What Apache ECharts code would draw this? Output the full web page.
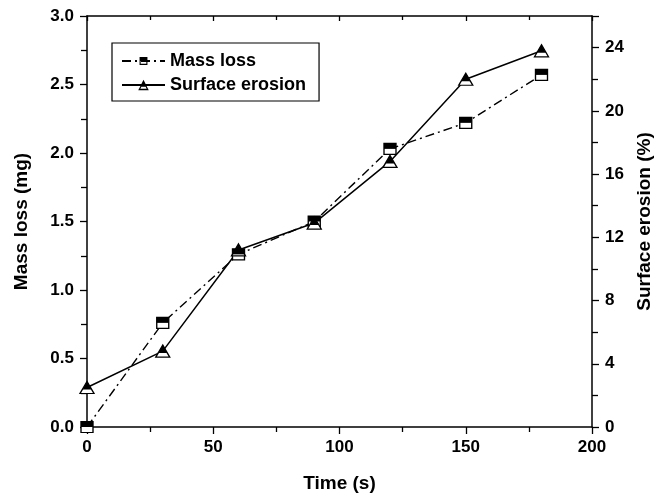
<!DOCTYPE html>
<html lang="en">
<head>
	<meta charset="UTF-8">
	<title>Mass loss and surface erosion</title>
	<style>
		html, body { margin: 0; padding: 0; background: #fff; }
		#chart { width: 666px; height: 496px; }
	</style>
</head>
<body>
	<div id="chart"></div>
	<script src="https://cdn.jsdelivr.net/npm/echarts@6/dist/echarts.min.js"></script>
	<script>
		// data
		var times = [0, 30, 60, 90, 120, 150, 180];
		var massLoss = [0, 0.76, 1.26, 1.50, 2.03, 2.22, 2.57];          // mg, left axis
		var surfaceErosion = [2.5, 4.8, 11.2, 12.9, 16.8, 22.0, 23.8];   // %, right axis

		var FONT = '"Liberation Sans", Arial, sans-serif';
		// markers: white outlined body, then the filled upper part on top
		var topSquare = 'path://M0,0L10,0L10,5L0,5Z';
		var topTriangle = 'path://M5,0L9.2,8.2L0.8,8.2Z';
		var bodyTriangle = 'path://M5,0L10,9L0,9Z';
		// legend icons: filled upper part plus thin strips for the lower outline
		// (the square gets two zero-size points so it is drawn a bit smaller)
		var legendSquare = 'path://M-1.6,-1.6L-1.6,-1.59 M11.6,11.6L11.6,11.59' +
			' M0,0L10,0L10,5L0,5Z' +
			' M0,5L1.4,5L1.4,10L0,10Z M8.6,5L10,5L10,10L8.6,10Z M0,8.6L10,8.6L10,10L0,10Z';
		var legendTriangle = 'path://M5,0L8.33,6L1.67,6Z' +
			' M1.67,6L2.9,6L1.3,9L0,9Z' +
			' M7.1,6L8.33,6L10,9L8.7,9Z' +
			' M0.6,7.8L9.4,7.8L10,9L0,9Z';

		function pairs(ys) {
			return times.map(function (t, i) { return [t, ys[i]]; });
		}

		var labelStyle = { color: '#000', fontFamily: FONT, fontWeight: 'bold', fontSize: 17 };
		var nameStyle = { color: '#000', fontFamily: FONT, fontWeight: 'bold', fontSize: 19 };
		var axisLine = { show: true, onZero: false, lineStyle: { color: '#000', width: 1.5 } };

		var chart = echarts.init(document.getElementById('chart'), null, { renderer: 'canvas' });
		var option = {
			animation: false,
			backgroundColor: '#fff',
			grid: { left: 87, right: 74, top: 16, bottom: 69, containLabel: false, outerBoundsMode: 'none' },
			legend: {
				left: 112, top: 43,
				orient: 'vertical',
				padding: [9, 13, 7, 9],
				borderColor: '#000', borderWidth: 1.2,
				itemWidth: 43, itemHeight: 13, itemGap: 6,
				textStyle: { color: '#000', fontFamily: FONT, fontWeight: 'bold', fontSize: 18, lineHeight: 17 },
				data: ['Mass loss', 'Surface erosion']
			},
			xAxis: [{
				type: 'value', min: 0, max: 200, interval: 50,
				name: 'Time (s)', nameLocation: 'middle', nameGap: 47, nameTextStyle: nameStyle,
				axisLine: axisLine,
				axisTick: { show: true, length: 7, lineStyle: { color: '#000', width: 1.3 } },
				minorTick: { show: true, splitNumber: 2, length: 5, lineStyle: { color: '#000', width: 1.3 } },
				axisLabel: Object.assign({ margin: 12 }, labelStyle),
				splitLine: { show: false }
			}, {
				type: 'value', min: 0, max: 200, interval: 50, position: 'top',
				axisLine: axisLine,
				axisTick: { show: true, inside: true, length: 5, lineStyle: { color: '#000', width: 1.3 } },
				minorTick: { show: true, splitNumber: 2, length: 4, lineStyle: { color: '#000', width: 1.3 } },
				axisLabel: { show: false },
				splitLine: { show: false }
			}],
			yAxis: [{
				type: 'value', min: 0, max: 3, interval: 0.5,
				name: 'Mass loss (mg)', nameLocation: 'middle', nameGap: 56, nameTextStyle: nameStyle,
				axisLine: axisLine,
				axisTick: { show: true, length: 7, lineStyle: { color: '#000', width: 1.3 } },
				minorTick: { show: true, splitNumber: 2, length: 6, lineStyle: { color: '#000', width: 1.3 } },
				axisLabel: Object.assign({ margin: 13, formatter: function (v) { return v.toFixed(1); } }, labelStyle),
				splitLine: { show: false }
			}, {
				type: 'value', min: 0, max: 26, interval: 4, position: 'right',
				name: 'Surface erosion (%)', nameLocation: 'middle', nameGap: 43, nameRotate: 90, nameTextStyle: nameStyle,
				axisLine: axisLine,
				axisTick: { show: true, length: 7, lineStyle: { color: '#000', width: 1.3 } },
				minorTick: { show: true, splitNumber: 2, length: 6, lineStyle: { color: '#000', width: 1.3 } },
				axisLabel: Object.assign({ margin: 13, showMaxLabel: false, formatter: function (v) { return v % 4 === 0 ? String(v) : ''; } }, labelStyle),
				splitLine: { show: false }
			}],
			series: [
				// lines (these carry the legend; their symbols only show in the legend)
				{
					name: 'Mass loss', type: 'line', data: pairs(massLoss),
					xAxisIndex: 0, yAxisIndex: 0, z: 2,
					symbol: legendSquare, showSymbol: false,
					itemStyle: { color: '#000' },
					lineStyle: { color: '#000', width: 1.4, type: [9, 4, 2, 4] }
				},
				{
					name: 'Surface erosion', type: 'line', data: pairs(surfaceErosion),
					xAxisIndex: 0, yAxisIndex: 1, z: 2,
					symbol: legendTriangle, showSymbol: false,
					itemStyle: { color: '#000' },
					lineStyle: { color: '#000', width: 1.5, type: 'solid' }
				},
				// white outlined marker bodies
				{
					type: 'scatter', data: pairs(massLoss), xAxisIndex: 0, yAxisIndex: 0, z: 3, silent: true,
					symbol: 'rect', symbolSize: [12, 11],
					itemStyle: { color: '#fff', borderColor: '#000', borderWidth: 1.3, opacity: 1 }
				},
				{
					type: 'scatter', data: pairs(surfaceErosion), xAxisIndex: 0, yAxisIndex: 1, z: 3, silent: true,
					symbol: bodyTriangle, symbolSize: [14, 12],
					itemStyle: { color: '#fff', borderColor: '#000', borderWidth: 1.3, opacity: 1 }
				},
				// filled upper parts of the markers
				{
					type: 'scatter', data: pairs(massLoss), xAxisIndex: 0, yAxisIndex: 0, z: 4, silent: true,
					symbol: topSquare, symbolSize: [12, 5.5], symbolOffset: [0, -2.75],
					itemStyle: { color: '#000', opacity: 1 }
				},
				{
					type: 'scatter', data: pairs(surfaceErosion), xAxisIndex: 0, yAxisIndex: 1, z: 4, silent: true,
					symbol: topTriangle, symbolSize: [9, 8], symbolOffset: [0, -2],
					itemStyle: { color: '#000', opacity: 1 }
				}
			]
		};
		chart.setOption(option);
	</script>
</body>
</html>
